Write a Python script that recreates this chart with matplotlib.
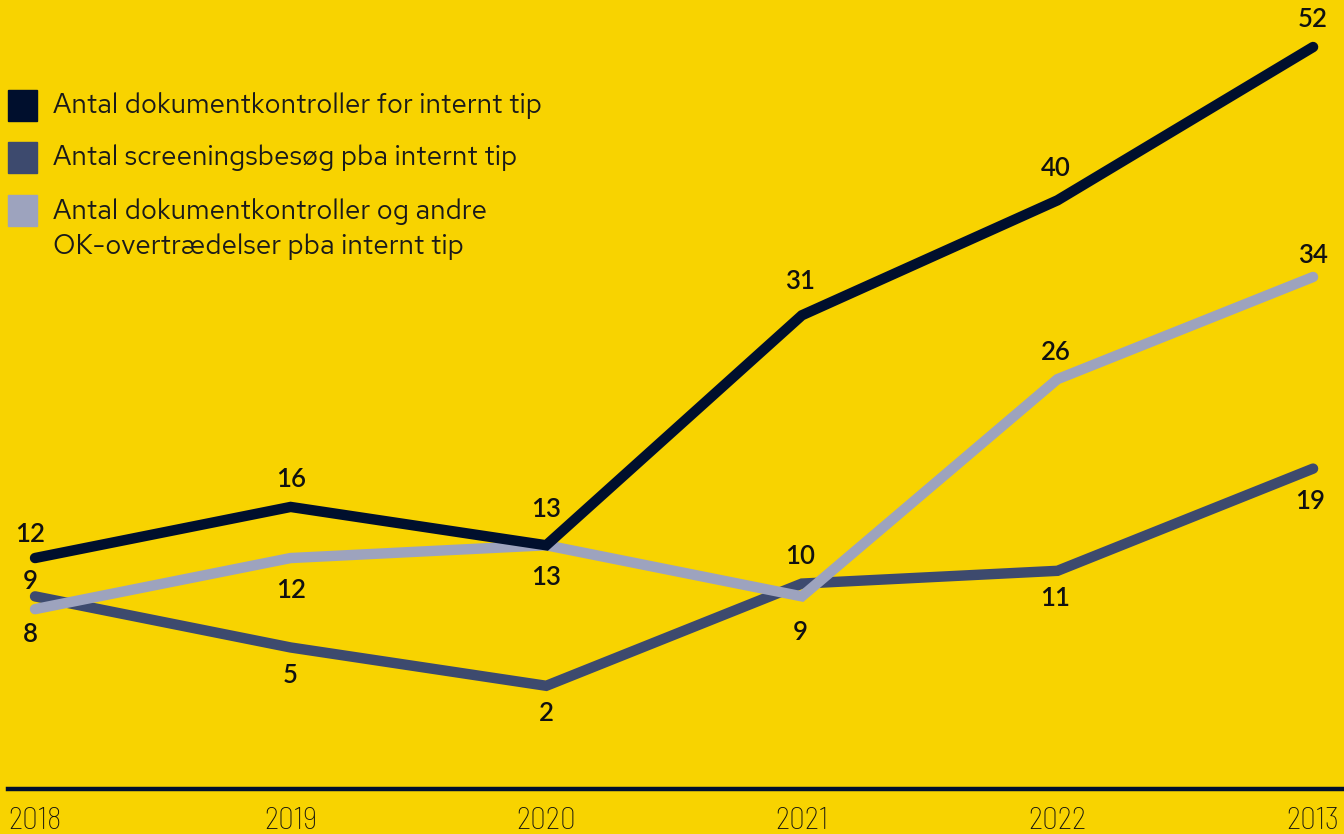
import matplotlib.pyplot as plt
import matplotlib.font_manager as fm

years = ['2018', '2019', '2020', '2021', '2022', '2013']
dok_kontrol = [12, 16, 13, 31, 40, 52]
screening = [9, 5, 2, 10, 11, 19]
dok_og_ok = [8, 12, 13, 9, 26, 34]

labels = ['Antal dokumentkontroller for internt tip',
          'Antal screeningsbesøg pba internt tip',
          'Antal dokumentkontroller og andre\nOK-overtrædelser pba internt tip']

bg = '#F8D300'
navy = '#000F2D'
slate = '#3D4A6E'
light = '#9DA3BE'

# label offsets in pixels (dx, dy) per point
off_navy = [(-5, 24), (0, 27), (0, 36), (-2, 34), (-2, 32), (0, 28)]
off_slate = [(-5, 15), (0, -28), (0, -28), (-2, 27), (-2, -28), (-3, -33)]
off_light = [(-5, -25), (0, -32), (0, -32), (-2, -36), (-2, 27), (0, 21)]

names = {f.name for f in fm.fontManager.ttflist}
main_font = next((n for n in ['Red Hat Text', 'Outfit', 'Lato'] if n in names), 'DejaVu Sans')
num_font = 'Lato' if 'Lato' in names else 'DejaVu Sans'
narrow = 'Barlow Semi Condensed' if 'Barlow Semi Condensed' in names else 'DejaVu Sans'
plt.rcParams['font.family'] = [main_font, 'DejaVu Sans']

fig = plt.figure(figsize=(13.44, 8.34), dpi=100, facecolor=bg)
ax = fig.add_axes([0, 0, 1, 1])
ax.set_facecolor(bg)
x = list(range(len(years)))

series = [(screening, slate, off_slate, 2),
          (dok_og_ok, light, off_light, 3),
          (dok_kontrol, navy, off_navy, 4)]
for vals, col, offs, z in series:
    ax.plot(x, vals, color=col, lw=7.5, solid_capstyle='round',
            solid_joinstyle='miter', zorder=z)
    for xi, v, (dx, dy) in zip(x, vals, offs):
        ax.annotate(str(v), (xi, v), xytext=(dx, dy), textcoords='offset pixels',
                    ha='center', va='center', fontsize=18.5, fontweight='semibold',
                    family=num_font, color='#111111', zorder=6)

ax.set_xlim(-0.137, 5.121)
ax.set_ylim(-9.60, 55.68)
ax.axhline(-6.08, xmin=8 / 1344, xmax=1342 / 1344, color=navy, lw=3.2)
for xi, yr in zip(x, years):
    ax.text(xi, -8.55, yr, ha='center', va='center', fontsize=22.5,
            family=narrow, fontweight='light', color='#111111')
ax.axis('off')

# legend
sq_y = [105, 157, 210]
text_y = [105, 158, 229]
cols = [navy, slate, light]
for sy, ty, col, lab in zip(sq_y, text_y, cols, labels):
    fig.patches.append(plt.Rectangle((8 / 1344, 1 - (sy + 15.5) / 834), 29 / 1344, 31 / 834,
                                     transform=fig.transFigure, color=col, zorder=5))
    fig.text(53 / 1344, 1 - ty / 834, lab, ha='left', va='center', fontsize=20,
             color='#1a1a1a', linespacing=1.4)

fig.savefig('out.png', dpi=100, facecolor=bg)
